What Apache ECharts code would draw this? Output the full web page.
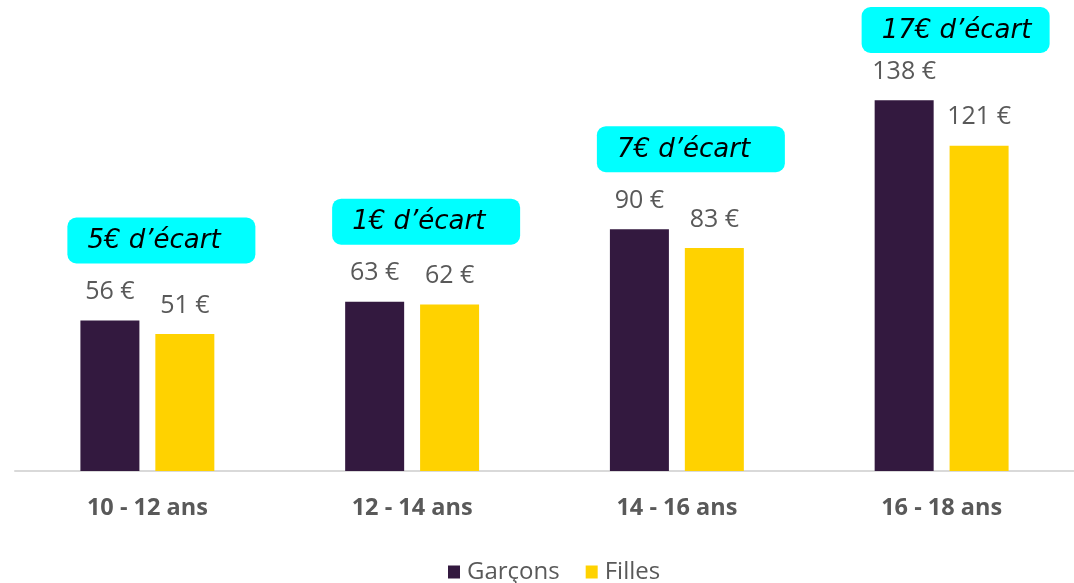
<!DOCTYPE html>
<html>
<head>
<meta charset="utf-8">
<script src="https://cdn.jsdelivr.net/npm/echarts@6/dist/echarts.min.js"></script>
<style>
  html, body { margin: 0; padding: 0; background: #fff; }
  #chart { width: 1074px; height: 583px; }
</style>
</head>
<body>
<div id="chart"></div>
<script>
const categories = ['10 - 12 ans', '12 - 14 ans', '14 - 16 ans', '16 - 18 ans']
const garcons = [56, 63, 90, 138]
const filles = [51, 62, 83, 121]
const ecarts = ['5€ d’écart', '1€ d’écart', '7€ d’écart', '17€ d’écart']

const labelFont = '"Open Sans", Lato, sans-serif'

// one box per category, sitting above the taller bar
const boxData = categories.map((c, i) => [i, Math.max(garcons[i], filles[i])])

const chart = echarts.init(document.getElementById('chart'))

chart.setOption({
  animation: false,
  grid: { left: 15, width: 1062, top: 41, bottom: 112 },
  legend: {
    bottom: -6,
    left: 443,
    itemWidth: 12,
    itemHeight: 13,
    itemGap: 26,
    icon: 'rect',
    textStyle: { fontFamily: labelFont, fontSize: 24, color: '#595959', padding: [0, 0, 0, 2] },
    data: ['Garçons', 'Filles']
  },
  xAxis: {
    type: 'category',
    data: categories,
    axisLine: { lineStyle: { color: '#d9d9d9', width: 2 } },
    axisTick: { length: 6, lineStyle: { color: '#d9d9d9' } },
    axisLabel: { margin: 25, fontFamily: labelFont, fontSize: 23.5, fontWeight: 'bold', color: '#595959' }
  },
  yAxis: {
    type: 'value',
    min: 0,
    max: 160,
    show: false,
    splitLine: { show: false }
  },
  series: [
    {
      name: 'Garçons',
      type: 'bar',
      data: garcons,
      barWidth: 59,
      barGap: '27%',
      itemStyle: { color: '#33193f' },
      label: {
        show: true, position: 'top', distance: 16,
        formatter: '{c} €',
        fontFamily: labelFont, fontSize: 25, color: '#595959'
      }
    },
    {
      name: 'Filles',
      type: 'bar',
      data: filles,
      barWidth: 59,
      itemStyle: { color: '#ffd200' },
      label: {
        show: true, position: 'top', distance: 16,
        formatter: '{c} €',
        fontFamily: labelFont, fontSize: 25, color: '#595959'
      }
    },
    {
      name: 'ecart',
      type: 'custom',
      data: boxData,
      z: 10,
      renderItem: (params, api) => {
        const p = api.coord([api.value(0), api.value(1)])
        const w = 188, h = 46
        const left = p[0] - 80
        const cy = Math.max(p[1] - 80, 30)
        return {
          type: 'group',
          children: [
            {
              type: 'rect',
              shape: { x: left, y: cy - h / 2, width: w, height: h, r: 9 },
              style: { fill: '#00ffff' }
            },
            {
              type: 'text',
              style: {
                x: left + 20, y: cy + 1,
                text: ecarts[params.dataIndex],
                align: 'left', verticalAlign: 'middle',
                font: 'italic 26px "DejaVu Sans", "Open Sans", sans-serif',
                fill: '#000'
              }
            }
          ]
        }
      }
    }
  ]
})
</script>
</body>
</html>
